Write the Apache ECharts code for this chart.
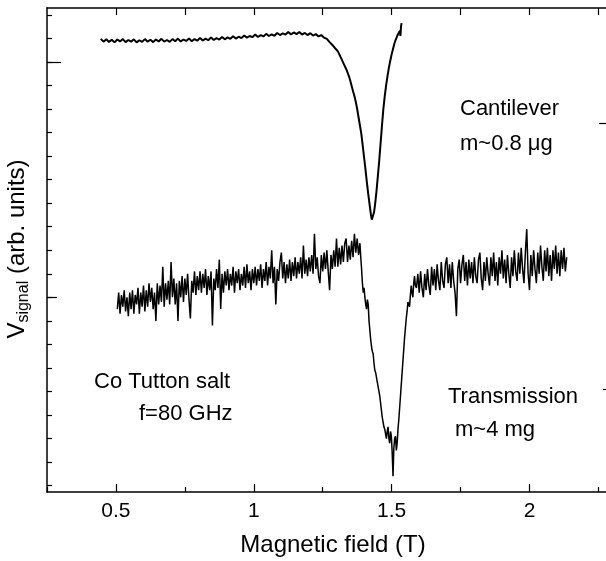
<!DOCTYPE html>
<html>
<head>
<meta charset="utf-8">
<script src="https://cdn.jsdelivr.net/npm/echarts@6/dist/echarts.min.js"></script>
<style>
  html, body { margin: 0; padding: 0; background: #fff; }
  #chart { width: 606px; height: 561px; }
</style>
</head>
<body>
<div id="chart"></div>
<script>
// field (T), signal (arb. units)
const cantilever = [
  [0.445, 1.098], [0.455, 1.086], [0.465, 1.096], [0.475, 1.085], [0.485, 1.094], [0.495, 1.083],
  [0.505, 1.095], [0.515, 1.087], [0.525, 1.097], [0.535, 1.084], [0.545, 1.093], [0.555, 1.086],
  [0.565, 1.096], [0.575, 1.083], [0.585, 1.092], [0.595, 1.085], [0.605, 1.097], [0.615, 1.086],
  [0.625, 1.094], [0.635, 1.084], [0.645, 1.095], [0.655, 1.087], [0.665, 1.098], [0.675, 1.086],
  [0.685, 1.093], [0.695, 1.085], [0.705, 1.097], [0.715, 1.088], [0.725, 1.099], [0.735, 1.087],
  [0.745, 1.095], [0.755, 1.089], [0.765, 1.100], [0.775, 1.088], [0.785, 1.097], [0.795, 1.090],
  [0.805, 1.102], [0.815, 1.091], [0.825, 1.099], [0.835, 1.092], [0.845, 1.104], [0.855, 1.093],
  [0.865, 1.101], [0.875, 1.095], [0.885, 1.106], [0.895, 1.096], [0.905, 1.104], [0.915, 1.098],
  [0.925, 1.109], [0.935, 1.099], [0.945, 1.107], [0.955, 1.101], [0.965, 1.112], [0.975, 1.103],
  [0.985, 1.110], [0.995, 1.105], [1.005, 1.116], [1.015, 1.106], [1.025, 1.114], [1.035, 1.108],
  [1.045, 1.119], [1.055, 1.110], [1.065, 1.117], [1.075, 1.111], [1.085, 1.123], [1.095, 1.114],
  [1.105, 1.121], [1.115, 1.116], [1.125, 1.127], [1.135, 1.117], [1.145, 1.125], [1.155, 1.118],
  [1.165, 1.127], [1.175, 1.116], [1.185, 1.123], [1.195, 1.114], [1.205, 1.122], [1.215, 1.112],
  [1.225, 1.118], [1.235, 1.108], [1.245, 1.114], [1.255, 1.103], [1.265, 1.098], [1.275, 1.084],
  [1.285, 1.072], [1.295, 1.058], [1.305, 1.045], [1.315, 1.020], [1.325, 0.995], [1.335, 0.970],
  [1.345, 0.940], [1.350, 0.920], [1.355, 0.898], [1.360, 0.875], [1.365, 0.855], [1.370, 0.830],
  [1.375, 0.800], [1.380, 0.765], [1.385, 0.730], [1.390, 0.695], [1.395, 0.645], [1.400, 0.595],
  [1.405, 0.545], [1.410, 0.490], [1.415, 0.440], [1.420, 0.395], [1.425, 0.350], [1.428, 0.330],
  [1.432, 0.335], [1.436, 0.360], [1.440, 0.395], [1.445, 0.450], [1.450, 0.515], [1.455, 0.580],
  [1.460, 0.655], [1.465, 0.730], [1.470, 0.800], [1.475, 0.855], [1.480, 0.900], [1.485, 0.940],
  [1.490, 0.975], [1.495, 1.005], [1.500, 1.032], [1.505, 1.055], [1.510, 1.078], [1.515, 1.095],
  [1.520, 1.110], [1.525, 1.122], [1.530, 1.132], [1.532, 1.110], [1.534, 1.150], [1.536, 1.165]
];

const transmission = [
  [0.505, -0.05], [0.510, 0.02], [0.515, -0.07], [0.520, 0.01], [0.525, -0.04], [0.530, 0.03],
  [0.535, -0.06], [0.540, 0.00], [0.545, -0.08], [0.550, 0.02], [0.555, -0.05], [0.560, 0.03],
  [0.565, -0.07], [0.570, 0.01], [0.575, -0.03], [0.580, 0.04], [0.585, -0.07], [0.590, 0.02],
  [0.595, -0.04], [0.600, 0.05], [0.605, -0.06], [0.610, 0.03], [0.615, -0.04], [0.620, 0.06],
  [0.625, -0.02], [0.630, 0.04], [0.635, -0.05], [0.640, 0.02], [0.645, -0.10], [0.650, 0.06],
  [0.655, -0.03], [0.660, 0.05], [0.665, -0.02], [0.670, 0.13], [0.675, -0.04], [0.680, 0.06],
  [0.685, -0.01], [0.690, 0.07], [0.695, -0.03], [0.700, 0.15], [0.705, 0.00], [0.710, 0.08],
  [0.715, -0.03], [0.720, 0.06], [0.725, -0.10], [0.730, 0.07], [0.735, 0.00], [0.740, 0.09],
  [0.745, -0.02], [0.750, 0.08], [0.755, 0.01], [0.760, 0.10], [0.765, -0.01], [0.770, -0.09],
  [0.775, 0.07], [0.780, 0.02], [0.785, 0.11], [0.790, 0.01], [0.795, 0.09], [0.800, 0.03],
  [0.805, 0.11], [0.810, 0.02], [0.815, 0.10], [0.820, 0.04], [0.825, 0.12], [0.830, 0.01],
  [0.835, 0.09], [0.840, 0.03], [0.845, 0.11], [0.850, -0.12], [0.855, 0.08], [0.860, 0.03],
  [0.865, 0.12], [0.870, 0.04], [0.875, 0.16], [0.880, -0.05], [0.885, 0.10], [0.890, 0.02],
  [0.895, 0.11], [0.900, 0.05], [0.905, 0.12], [0.910, 0.03], [0.915, 0.10], [0.920, 0.05],
  [0.925, 0.13], [0.930, 0.02], [0.935, 0.11], [0.940, 0.06], [0.945, 0.12], [0.950, 0.03],
  [0.955, 0.10], [0.960, 0.05], [0.965, 0.13], [0.970, 0.04], [0.975, 0.14], [0.980, 0.06],
  [0.985, 0.11], [0.990, 0.03], [0.995, 0.12], [1.000, 0.06], [1.005, 0.13], [1.010, 0.05],
  [1.015, 0.12], [1.020, 0.07], [1.025, 0.14], [1.030, 0.04], [1.035, 0.12], [1.040, 0.07],
  [1.045, 0.15], [1.050, 0.05], [1.055, 0.13], [1.060, 0.08], [1.065, 0.20], [1.070, 0.06],
  [1.075, 0.13], [1.080, -0.03], [1.085, 0.12], [1.090, 0.07], [1.095, 0.15], [1.100, 0.19],
  [1.105, 0.08], [1.110, 0.15], [1.115, 0.06], [1.120, 0.14], [1.125, 0.08], [1.130, 0.16],
  [1.135, 0.07], [1.140, 0.15], [1.145, 0.09], [1.150, 0.17], [1.155, 0.08], [1.160, 0.15],
  [1.165, 0.10], [1.170, 0.17], [1.175, 0.08], [1.180, 0.22], [1.185, 0.10], [1.190, 0.16],
  [1.195, 0.09], [1.200, 0.17], [1.205, 0.11], [1.210, 0.18], [1.215, 0.10], [1.220, 0.27],
  [1.225, 0.12], [1.230, 0.17], [1.235, 0.09], [1.240, 0.06], [1.245, 0.18], [1.250, 0.11],
  [1.255, 0.19], [1.260, 0.12], [1.265, 0.20], [1.270, 0.11], [1.275, 0.03], [1.280, 0.18],
  [1.285, 0.12], [1.290, 0.20], [1.295, 0.13], [1.300, 0.25], [1.305, 0.13], [1.310, 0.21],
  [1.315, 0.14], [1.320, 0.22], [1.325, 0.15], [1.330, 0.23], [1.335, 0.25], [1.340, 0.15],
  [1.345, 0.22], [1.350, 0.16], [1.355, 0.24], [1.360, 0.17], [1.365, 0.27], [1.370, 0.19],
  [1.375, 0.25], [1.380, 0.18], [1.385, 0.23], [1.388, 0.17],
  [1.391, 0.12], [1.394, 0.06], [1.397, 0.02], [1.400, 0.04], [1.403, 0.00], [1.406, -0.03],
  [1.409, -0.05], [1.412, -0.01], [1.415, -0.03], [1.418, -0.10], [1.421, -0.14], [1.424, -0.18],
  [1.427, -0.21], [1.430, -0.23], [1.433, -0.24], [1.436, -0.28], [1.439, -0.31], [1.442, -0.32],
  [1.445, -0.34], [1.448, -0.36], [1.451, -0.38], [1.454, -0.40], [1.457, -0.42], [1.460, -0.45],
  [1.463, -0.48], [1.466, -0.51], [1.469, -0.53], [1.472, -0.55], [1.475, -0.56], [1.478, -0.58],
  [1.481, -0.60], [1.484, -0.57], [1.487, -0.55], [1.490, -0.60], [1.493, -0.62], [1.496, -0.57],
  [1.499, -0.59], [1.502, -0.66], [1.505, -0.76], [1.508, -0.64], [1.511, -0.60], [1.514, -0.59],
  [1.517, -0.65], [1.520, -0.62], [1.523, -0.56], [1.526, -0.52], [1.529, -0.47], [1.532, -0.42],
  [1.535, -0.37], [1.538, -0.32], [1.541, -0.27], [1.544, -0.22], [1.547, -0.17], [1.550, -0.13],
  [1.553, -0.09], [1.556, -0.06], [1.559, -0.02], [1.562, -0.03], [1.565, -0.04], [1.568, 0.01],
  [1.571, 0.05], [1.574, 0.02], [1.577, 0.00], [1.580, 0.06], [1.583, 0.09], [1.586, 0.05],
  [1.590, 0.04], [1.595, 0.10], [1.600, 0.02], [1.605, 0.11], [1.610, 0.04], [1.615, 0.00],
  [1.620, 0.10], [1.625, 0.03], [1.630, 0.12], [1.635, 0.05], [1.640, 0.01], [1.645, 0.13],
  [1.650, 0.05], [1.655, 0.12], [1.660, 0.03], [1.665, 0.14], [1.670, 0.07], [1.675, 0.03],
  [1.680, 0.15], [1.685, 0.07], [1.690, 0.04], [1.695, 0.14], [1.700, 0.17], [1.705, 0.06],
  [1.710, 0.14], [1.715, 0.04], [1.720, 0.15], [1.725, 0.07], [1.730, 0.02], [1.735, -0.08],
  [1.740, 0.12], [1.745, 0.16], [1.750, 0.06], [1.755, 0.14], [1.760, 0.18], [1.765, 0.07],
  [1.770, 0.15], [1.775, 0.05], [1.780, 0.16], [1.785, 0.08], [1.790, 0.15], [1.795, 0.06],
  [1.800, 0.17], [1.805, 0.09], [1.810, 0.06], [1.815, 0.16], [1.820, 0.19], [1.825, 0.08],
  [1.830, 0.03], [1.835, 0.15], [1.840, 0.07], [1.845, 0.17], [1.850, 0.10], [1.855, 0.05],
  [1.860, 0.17], [1.865, 0.09], [1.870, 0.19], [1.875, 0.07], [1.880, 0.15], [1.885, 0.05],
  [1.890, 0.17], [1.895, 0.10], [1.900, 0.20], [1.905, 0.08], [1.910, 0.16], [1.915, 0.06],
  [1.920, 0.18], [1.925, 0.10], [1.930, 0.04], [1.935, 0.17], [1.940, 0.09], [1.945, 0.20],
  [1.950, 0.11], [1.955, 0.07], [1.960, 0.19], [1.965, 0.10], [1.970, 0.21], [1.975, 0.12],
  [1.980, 0.06], [1.985, 0.19], [1.990, 0.29], [1.995, 0.10], [2.000, 0.03], [2.005, 0.18],
  [2.010, 0.09], [2.015, 0.20], [2.020, 0.12], [2.025, 0.06], [2.030, 0.19], [2.035, 0.10],
  [2.040, 0.22], [2.045, 0.13], [2.050, 0.07], [2.055, 0.20], [2.060, 0.11], [2.065, 0.21],
  [2.070, 0.09], [2.075, 0.18], [2.080, 0.07], [2.085, 0.20], [2.090, 0.12], [2.095, 0.22],
  [2.100, 0.10], [2.105, 0.19], [2.110, 0.09], [2.115, 0.20], [2.120, 0.12], [2.125, 0.21],
  [2.130, 0.11], [2.135, 0.17]
];

const fieldLabels = [0.5, 1, 1.5, 2];
const fieldMinor = [0.25, 0.75, 1.25, 1.75, 2.25];
const fieldTop = [0.5, 0.75, 1, 1.25, 1.5, 1.75, 2, 2.25];
const signalMinor = [-0.8, -0.7, -0.6, -0.5, -0.4, -0.3, -0.2, -0.1, 0, 0.1, 0.2, 0.3, 0.4,
  0.5, 0.6, 0.7, 0.8, 0.9, 1, 1.1, 1.2];
const rightTicks = [0.739, -0.39];

const FONT = '"Liberation Sans", Arial, Helvetica, sans-serif';
const X_MIN = 0.25, X_MAX = 2.292;
const Y_MIN = -0.827, Y_MAX = 1.229;
const black = { color: '#000', width: 1.5 };

function xTicks(position, values, len, showLine, label) {
  return {
    type: 'value', position, min: X_MIN, max: X_MAX,
    axisLine: { show: showLine, onZero: false, lineStyle: black },
    axisTick: { show: true, inside: true, length: len, customValues: values, lineStyle: { color: '#000', width: 1.2 } },
    axisLabel: label
      ? { show: true, customValues: values, margin: 9, color: '#000', fontSize: 21, fontFamily: FONT }
      : { show: false },
    splitLine: { show: false }
  };
}

function yTicks(position, values, len, showLine) {
  return {
    type: 'value', position, min: Y_MIN, max: Y_MAX,
    axisLine: { show: showLine, onZero: false, lineStyle: black },
    axisTick: { show: true, inside: true, length: len, customValues: values, lineStyle: { color: '#000', width: 1.2 } },
    axisLabel: { show: false },
    splitLine: { show: false }
  };
}

function note(text, x, y) {
  return {
    type: 'text', x, y,
    style: { text, fill: '#000', font: '22px ' + FONT, align: 'left', verticalAlign: 'middle' }
  };
}

const chart = echarts.init(document.getElementById('chart'));
chart.setOption({
  animation: false,
  backgroundColor: '#fff',
  // the frame runs a few pixels past the right edge of the picture
  grid: { left: 47, top: 8, width: 563, height: 484, outerBoundsMode: 'none', containLabel: false },
  xAxis: [
    xTicks('bottom', fieldLabels, 8, true, true),
    xTicks('bottom', fieldMinor, 5, false, false),
    xTicks('top', fieldTop, 7, true, false)
  ],
  yAxis: [
    yTicks('left', signalMinor, 5, true),
    yTicks('left', [1], 14, false),
    yTicks('left', [0], 10, false),
    yTicks('right', [rightTicks[0]], 11, true),
    yTicks('right', [rightTicks[1]], 7, false)
  ],
  series: [
    {
      type: 'line', data: cantilever, xAxisIndex: 0, yAxisIndex: 0,
      symbol: 'none', lineStyle: { color: '#000', width: 2 }
    },
    {
      type: 'line', data: transmission, xAxisIndex: 0, yAxisIndex: 0,
      symbol: 'none', lineStyle: { color: '#000', width: 1.5 }
    }
  ],
  graphic: [
    note('Cantilever', 460, 109),
    note('m~0.8 \u03bcg', 460, 144),
    note('Co Tutton salt', 94, 382),
    note('f=80 GHz', 139, 414),
    note('Transmission', 448, 397),
    note('m~4 mg', 455, 430),
    {
      type: 'text', x: 333, y: 545,
      style: { text: 'Magnetic field (T)', fill: '#000', font: '24px ' + FONT, align: 'center', verticalAlign: 'middle' }
    },
    {
      type: 'text', x: 17, y: 249, rotation: Math.PI / 2,
      style: {
        text: '{v|V}{s|signal}{v| (arb. units)}',
        align: 'center', verticalAlign: 'middle',
        rich: {
          v: { fontSize: 24, fontFamily: FONT, fill: '#000', lineHeight: 30 },
          s: { fontSize: 16, fontFamily: FONT, fill: '#000', lineHeight: 20, verticalAlign: 'bottom' }
        }
      }
    }
  ]
});
</script>
</body>
</html>
